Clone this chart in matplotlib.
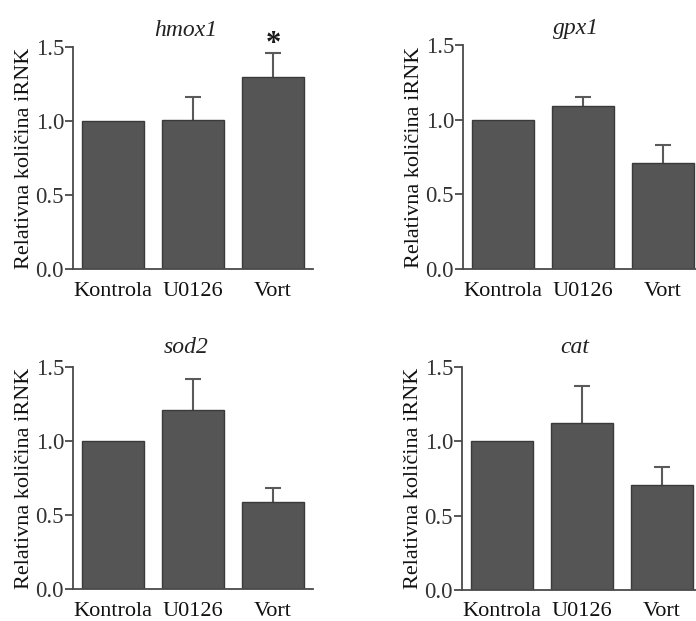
import matplotlib
matplotlib.use("Agg")
import matplotlib.pyplot as plt

plt.rcParams['font.family'] = ['Liberation Serif', 'DejaVu Serif']

groups = ["Kontrola", "U0126", "Vort"]
genes = ["hmox1", "gpx1", "sod2", "cat"]

hmox1_mean = [1.00, 1.01, 1.30]
hmox1_err = [0.00, 0.15, 0.16]
gpx1_mean = [1.00, 1.09, 0.71]
gpx1_err = [0.00, 0.06, 0.12]
sod2_mean = [1.00, 1.21, 0.585]
sod2_err = [0.00, 0.21, 0.095]
cat_mean = [1.00, 1.12, 0.705]
cat_err = [0.00, 0.25, 0.125]

means = [hmox1_mean, gpx1_mean, sod2_mean, cat_mean]
errs = [hmox1_err, gpx1_err, sod2_err, cat_err]
significant = [[False, False, True], [False, False, False],
               [False, False, False], [False, False, False]]

yticks = [0.0, 0.5, 1.0, 1.5]
ylabel = "Relativna količina iRNK"

W, H = 696, 621
fig = plt.figure(figsize=(W / 100, H / 100), dpi=100)

# panel boxes in pixels: left, top(y=1.5), bottom(y=0)
boxes = [(73, 47, 269), (463, 45, 269), (73, 367, 589), (462, 367, 590)]
title_pad = [8, 8, 10, 10]
axis_w = 240

bar_col = "#555555"
edge_col = "#3a3a3a"
line_col = "#4a4a4a"
err_col = "#5a5a5a"
bar_w = 0.775
cap_half = 0.1

for i, (left, top, bottom) in enumerate(boxes):
    ax = fig.add_axes([left / W, (H - bottom) / H, axis_w / W, (bottom - top) / H])
    x = list(range(len(groups)))
    ax.bar(x, means[i], width=bar_w, color=bar_col, edgecolor=edge_col,
           linewidth=1.0, zorder=2)
    # upper-only error bars: stem from bar top plus a cap
    for j in x:
        m, e = means[i][j], errs[i][j]
        if e > 0:
            ax.vlines(j, m, m + e, colors=err_col, linewidth=1.5, zorder=1)
            ax.hlines(m + e, j - cap_half, j + cap_half, colors=err_col,
                      linewidth=1.5, zorder=1)
        if significant[i][j]:
            ax.text(j, m + e + 0.055, "*", ha="center", va="center",
                    fontsize=22, fontweight="bold", color="#1a1a1a",
                    clip_on=False)
    ax.set_xlim(-0.5, 2.5)
    ax.set_ylim(0, 1.5)
    ax.set_yticks(yticks)
    ax.set_yticklabels([f"{t:.1f}" for t in yticks])
    ax.set_xticks(x)
    ax.set_xticklabels(groups)
    ax.tick_params(axis="x", length=0, pad=9, labelsize=16, colors="#111111")
    ax.tick_params(axis="y", length=6, width=1.3, pad=0.5, labelsize=16.5,
                   colors=line_col, labelcolor="#333333")
    for s in ("top", "right"):
        ax.spines[s].set_visible(False)
    for s in ("left", "bottom"):
        ax.spines[s].set_color(line_col)
        ax.spines[s].set_linewidth(1.3)
    ax.set_ylabel(ylabel, fontsize=16, labelpad=1, color="#111111")
    ax.set_title(genes[i], fontsize=17, style="italic", pad=title_pad[i],
                 x=0.47, color="#222222")

fig.savefig("out.png", dpi=100)
